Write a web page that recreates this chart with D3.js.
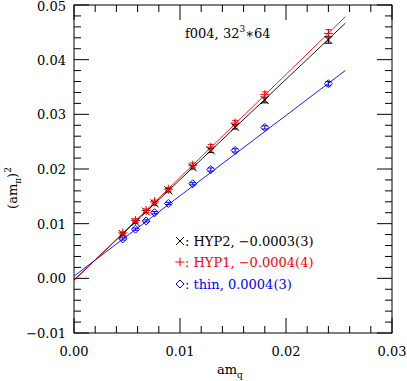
<!DOCTYPE html>
<html>
<head>
<meta charset="utf-8">
<script src="https://d3js.org/d3.v7.min.js"></script>
<style>
body { margin: 0; background: #fff; }
text { font-family: 'DejaVu Serif', serif; }
</style>
</head>
<body>
<svg id="svg" width="407" height="381"></svg>
<script>
// quark masses (x values, same for every series)
const amq = [0.0046, 0.0058, 0.0068, 0.0076, 0.0089, 0.0112, 0.0129, 0.0152, 0.0180, 0.0240];

// (am_pi)^2 for each action
const hyp2 = [0.0081, 0.0103, 0.0122, 0.0137, 0.0161, 0.0203, 0.0234, 0.0277, 0.0326, 0.0436];
const hyp2Err = [0.0002, 0.0002, 0.0002, 0.0003, 0.0003, 0.0003, 0.0004, 0.0004, 0.0005, 0.0006];
const hyp1 = [0.0083, 0.0106, 0.0124, 0.0140, 0.0163, 0.0207, 0.0240, 0.0284, 0.0336, 0.0448];
const hyp1Err = [0.0002, 0.0003, 0.0003, 0.0003, 0.0003, 0.0004, 0.0005, 0.0005, 0.0005, 0.0007];
const thin = [0.0072, 0.0090, 0.0105, 0.0120, 0.0137, 0.0173, 0.0199, 0.0234, 0.0276, 0.0356];
const thinErr = [0.0002, 0.0002, 0.0002, 0.0002, 0.0002, 0.0002, 0.0003, 0.0003, 0.0003, 0.0004];

// linear fits: intercept, slope, x-range
const fitNames = ["HYP2", "HYP1", "thin"];
const fitIntercept = [-0.0003, -0.0004, 0.0004];
const fitSlope = [1.835, 1.885, 1.47];
const fitRange = [0, 0.0256];
const legendText = ["HYP2, \u22120.0003(3)", "HYP1, \u22120.0004(4)", "thin, 0.0004(3)"];

const xTicks = [0, 0.01, 0.02, 0.03];
const yTicks = [-0.01, 0, 0.01, 0.02, 0.03, 0.04, 0.05];

const colors = ["#000000", "#ff0000", "#0000ff"];

const svg = d3.select("#svg");
const x = d3.scaleLinear().domain([0, 0.03]).range([74, 392]);
const y = d3.scaleLinear().domain([-0.01, 0.05]).range([333, 5]);

const g = svg.append("g");

// frame
g.append("rect")
    .attr("x", x(0)).attr("y", y(0.05))
    .attr("width", x(0.03) - x(0)).attr("height", y(-0.01) - y(0.05))
    .attr("fill", "none").attr("stroke", "#000").attr("stroke-width", 1);

// ticks on all 4 sides, pointing inward
const minorX = d3.range(0, 0.0301, 0.002);
const minorY = d3.range(-0.01, 0.0501, 0.002);
const isMajor = v => Math.abs(v * 100 - Math.round(v * 100)) < 1e-6;
minorX.forEach(v => {
    const len = isMajor(v) ? 15 : 7;
    g.append("line").attr("x1", x(v)).attr("x2", x(v)).attr("y1", y(-0.01)).attr("y2", y(-0.01) - len).attr("stroke", "#000");
    g.append("line").attr("x1", x(v)).attr("x2", x(v)).attr("y1", y(0.05)).attr("y2", y(0.05) + len).attr("stroke", "#000");
});
minorY.forEach(v => {
    const len = isMajor(v) ? 15 : 7;
    g.append("line").attr("y1", y(v)).attr("y2", y(v)).attr("x1", x(0)).attr("x2", x(0) + len).attr("stroke", "#000");
    g.append("line").attr("y1", y(v)).attr("y2", y(v)).attr("x1", x(0.03)).attr("x2", x(0.03) - len).attr("stroke", "#000");
});

// tick labels
const fmt = d3.format(".2f");
xTicks.forEach(v => {
    g.append("text").attr("x", x(v)).attr("y", 356).attr("text-anchor", "middle")
        .attr("font-size", 13).text(fmt(v));
});
yTicks.forEach(v => {
    g.append("text").attr("x", 66).attr("y", Math.max(y(v) + 5, 11)).attr("text-anchor", "end")
        .attr("font-size", 13).text(fmt(v).replace("-", "\u2212"));
});

// axis titles
const xl = g.append("text").attr("x", 217).attr("y", 374).attr("font-size", 13);
xl.append("tspan").text("am");
xl.append("tspan").attr("font-size", 9).attr("dy", 4).text("q");

const yl = g.append("text").attr("transform", "translate(17,188) rotate(-90)")
    .attr("text-anchor", "middle").attr("font-size", 13);
yl.append("tspan").text("(am");
yl.append("tspan").attr("font-size", 9).attr("dy", 4).text("\u03c0");
yl.append("tspan").attr("dy", -4).text(")");
yl.append("tspan").attr("font-size", 9).attr("dy", -6).text("2");

// title
const tt = g.append("text").attr("x", 185).attr("y", 38).attr("font-size", 13);
tt.append("tspan").text("f004, 32");
tt.append("tspan").attr("font-size", 9).attr("dy", -6).text("3");
tt.append("tspan").attr("dy", 6).text("\u2217");
tt.append("tspan").text("64");

// clip for fit lines
svg.append("clipPath").attr("id", "clip").append("rect")
    .attr("x", x(0)).attr("y", y(0.05)).attr("width", x(0.03) - x(0)).attr("height", y(-0.01) - y(0.05));

// fit lines
fitNames.forEach((n, i) => {
    g.append("line").attr("clip-path", "url(#clip)")
        .attr("x1", x(fitRange[0])).attr("y1", y(fitIntercept[i] + fitSlope[i] * fitRange[0]))
        .attr("x2", x(fitRange[1])).attr("y2", y(fitIntercept[i] + fitSlope[i] * fitRange[1]))
        .attr("stroke", colors[i]).attr("stroke-width", 0.9);
});

// symbols
function drawSymbol(sel, kind, cx, cy, color) {
    const s = 4;
    if (kind === "x") {
        sel.append("path").attr("d", `M${cx - s},${cy - s}L${cx + s},${cy + s}M${cx - s},${cy + s}L${cx + s},${cy - s}`)
            .attr("stroke", color).attr("fill", "none");
    } else if (kind === "+") {
        sel.append("path").attr("d", `M${cx - s - 0.5},${cy}L${cx + s + 0.5},${cy}M${cx},${cy - s - 0.5}L${cx},${cy + s + 0.5}`)
            .attr("stroke", color).attr("fill", "none");
    } else {
        sel.append("path").attr("d", `M${cx},${cy - s}L${cx + s},${cy}L${cx},${cy + s}L${cx - s},${cy}Z`)
            .attr("stroke", color).attr("fill", "none");
    }
}

const series = [
    { vals: hyp2, err: hyp2Err, kind: "x" },
    { vals: hyp1, err: hyp1Err, kind: "+" },
    { vals: thin, err: thinErr, kind: "d" }
];

series.forEach((s, i) => {
    s.vals.forEach((v, j) => {
        const cx = x(amq[j]);
        const y0 = y(v - s.err[j]), y1 = y(v + s.err[j]);
        g.append("path")
            .attr("d", `M${cx},${y0}L${cx},${y1}M${cx - 3},${y0}L${cx + 3},${y0}M${cx - 3},${y1}L${cx + 3},${y1}`)
            .attr("stroke", colors[i]).attr("fill", "none");
        drawSymbol(g, s.kind, cx, y(v), colors[i]);
    });
});

// legend
const legY = [241, 262, 284];
series.forEach((s, i) => {
    drawSymbol(g, s.kind, 180, legY[i], colors[i]);
    g.append("text").attr("x", 185).attr("y", legY[i] + 5).attr("font-size", 13)
        .attr("fill", colors[i]).text(":  " + legendText[i]);
});
</script>
</body>
</html>
